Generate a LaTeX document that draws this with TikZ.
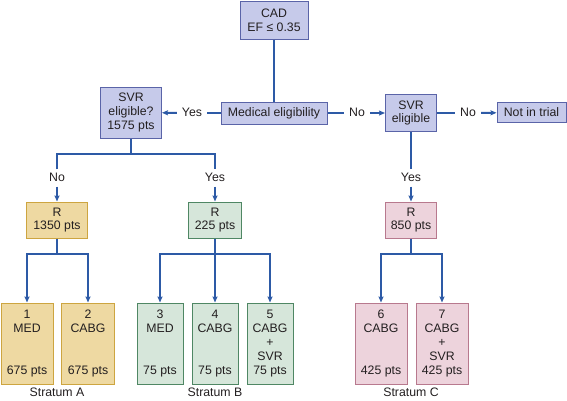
\documentclass[tikz,border=0pt]{standalone}
\usepackage{fontspec}
\setmainfont{Liberation Sans}
\usetikzlibrary{arrows.meta, positioning}
\definecolor{cblue}{HTML}{2D5AA6}
\definecolor{ctext}{HTML}{231F20}
\definecolor{bfill}{HTML}{C6CAEA}
\definecolor{bline}{HTML}{5A64A8}
\definecolor{yfill}{HTML}{EED9A2}
\definecolor{yline}{HTML}{CDA540}
\definecolor{gfill}{HTML}{D6E6DA}
\definecolor{gline}{HTML}{4F8764}
\definecolor{pfill}{HTML}{EDD3DC}
\definecolor{pline}{HTML}{B8798E}
\tikzset{
  every picture/.style={font=\fontsize{12.3}{13.8}\selectfont},
  box/.style={draw=#1line, fill=#1fill, align=center, inner sep=0pt, line width=1pt, text=ctext},
  box/.default=b,
  arm/.style={box=#1, minimum height=81pt},
  lbl/.style={inner xsep=5pt, inner ysep=3pt, text height=8.5pt, text depth=2.5pt, text=ctext},
  link/.style={draw=cblue, line width=2pt},
  arrow/.style={link, -{Stealth[length=6pt, width=5pt, inset=1pt]}},
}

\begin{document}
\begin{tikzpicture}[x=1pt, y=-1pt]
  \useasboundingbox (0,0) rectangle (567,400);
  % screening row
  \node[box, minimum width=68pt, minimum height=38pt] (cad) at (274,20) {CAD\\EF ≤ 0.35};
  \node[box, minimum width=106pt, minimum height=22pt] (med) at (274,113) {Medical eligibility};
  \node[box, minimum width=61pt, minimum height=51pt] (svrq) at (131,112.5) {SVR\\eligible?\\1575 pts};
  \node[box, minimum width=51pt, minimum height=37pt] (svre) at (411,113) {SVR\\eligible};
  \node[box, minimum width=69pt, minimum height=20pt] (out) at (531.5,112.5) {Not in trial};
  \node[lbl] (yes1) at (192,113) {Yes};
  \node[lbl] (no1) at (357,113) {No};
  \node[lbl] (no2) at (468,113) {No};
  \draw[link] (cad) -- (med);
  \draw[link] (med) -- (yes1);
  \draw[arrow] (yes1) -- (svrq);
  \draw[link] (med) -- (no1);
  \draw[arrow] (no1) -- (svre);
  \draw[link] (svre) -- (no2);
  \draw[arrow] (no2) -- (out);
  % SVR split
  \coordinate (s1) at (131,154);
  \node[lbl] (no3) at (57,178) {No};
  \node[lbl] (yes2) at (215,178) {Yes};
  \node[lbl] (yes3) at (411,178) {Yes};
  \draw[link] (svrq) -- (s1);
  \draw[link] (no3.north) |- (s1) -| (yes2.north);
  \draw[link] (svre) -- (yes3);
  % randomisation
  \node[box=y, minimum width=61pt, minimum height=36pt] (ra) at (57,220) {R\\1350 pts};
  \node[box=g, minimum width=53pt, minimum height=36pt] (rb) at (215,220) {R\\225 pts};
  \node[box=p, minimum width=51pt, minimum height=36pt] (rc) at (411,220) {R\\850 pts};
  \draw[arrow] (no3) -- (ra);
  \draw[arrow] (yes2) -- (rb);
  \draw[arrow] (yes3) -- (rc);
  % treatment arms
  \node[arm=y, minimum width=52pt] (arm1) at (27,343.5) {1\\MED\\[27.6pt]675 pts};
  \node[arm=y, minimum width=53pt] (arm2) at (88,343.5) {2\\CABG\\[27.6pt]675 pts};
  \node[arm=g, minimum width=46pt] (arm3) at (160,343.5) {3\\MED\\[27.6pt]75 pts};
  \node[arm=g, minimum width=46pt] (arm4) at (215,343.5) {4\\CABG\\[27.6pt]75 pts};
  \node[arm=g, minimum width=46pt] (arm5) at (270,343.5) {5\\CABG\\+\\SVR\\75 pts};
  \node[arm=p, minimum width=52pt] (arm6) at (381,343.5) {6\\CABG\\[27.6pt]425 pts};
  \node[arm=p, minimum width=52pt] (arm7) at (442,343.5) {7\\CABG\\+\\SVR\\425 pts};
  \coordinate (s2) at (57,254);
  \coordinate (s3) at (215,254);
  \coordinate (s4) at (411,254);
  \draw[link] (ra) -- (s2);
  \draw[arrow] (s2) -| (arm1.north);
  \draw[arrow] (s2) -| (arm2.north);
  \draw[arrow] (rb) -- (arm4);
  \draw[arrow] (s3) -| (arm3.north);
  \draw[arrow] (s3) -| (arm5.north);
  \draw[link] (rc) -- (s4);
  \draw[arrow] (s4) -| (arm6.north);
  \draw[arrow] (s4) -| (arm7.north);
  % strata
  \node[lbl] (sa) at (57,393) {Stratum A};
  \node[lbl] (sb) at (215,393) {Stratum B};
  \node[lbl] (sc) at (411,393) {Stratum C};
\end{tikzpicture}
\end{document}
